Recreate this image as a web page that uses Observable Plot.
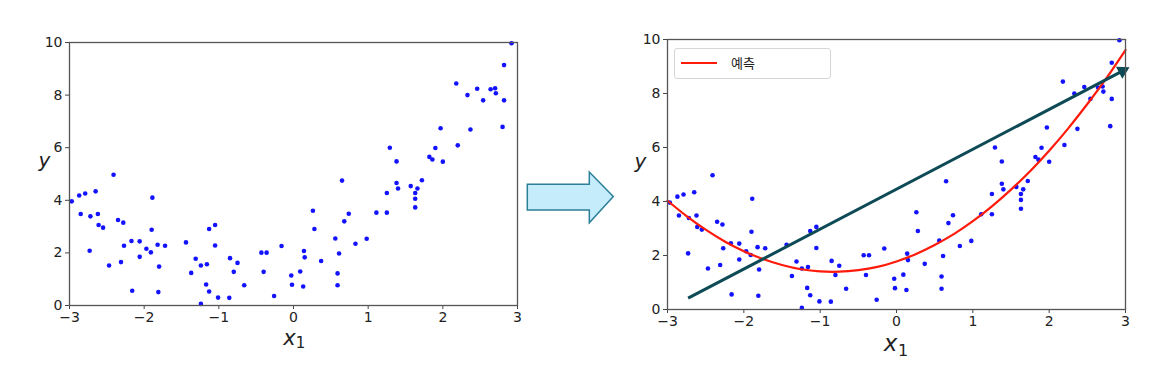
<!DOCTYPE html>
<html>
<head>
<meta charset="utf-8">
<script src="https://cdn.jsdelivr.net/npm/d3@7"></script>
<script src="https://cdn.jsdelivr.net/npm/@observablehq/plot@0.6"></script>
<style>
  body { margin: 0; width: 1165px; height: 373px; position: relative; background: #fff; overflow: hidden; }
  .panel { position: absolute; top: 0; }
  #legend { position: absolute; left: 674px; top: 48px; width: 157px; height: 31px; box-sizing: border-box;
    border: 1px solid #d6d6d6; border-radius: 3px; background: rgba(255,255,255,0.85); }
  #legend .ln { position: absolute; left: 6px; top: 13px; width: 36px; height: 2px; background: #ff1a0a; }
  #legend .tx { position: absolute; left: 56px; top: 5px; font: 13px "Noto Sans CJK KR", "DejaVu Sans", sans-serif; color: #222; line-height: 18px; }
</style>
</head>
<body>
<div id="left" class="panel" style="left:0"></div>
<div id="right" class="panel" style="left:600px"></div>
<div id="legend"><div class="ln"></div><div class="tx">예측</div></div>
<svg id="bigarrow" width="1165" height="373" style="position:absolute;left:0;top:0;pointer-events:none">
  <polygon points="527.3,184.3 589.3,184.3 589.3,172 613.3,196.5 589.3,222.7 589.3,210 527.3,210"
    fill="#c4ecfa" stroke="#2b7f98" stroke-width="1.5" stroke-linejoin="miter"/>
</svg>
<script>
// ---- data ----
const X1 = [-2.97,-2.87,-2.79,-2.65,-2.85,-2.72,-2.62,-2.61,-2.55,-2.73,-2.47,-2.41,-2.35,-2.28,-2.27,-2.31,-2.17,-2.06,-2.06,-2.16,
  -1.97,-1.91,-1.90,-1.89,-1.82,-1.72,-1.80,-1.81,-1.44,-1.37,-1.31,-1.24,-1.16,-1.24,-1.17,-1.13,-1.13,-1.05,-1.05,-1.01,
  -0.85,-0.80,-0.75,-0.66,-0.86,-0.43,-0.36,-0.40,-0.26,-0.16,
  -0.03,-0.02,0.09,0.13,0.14,0.15,0.26,0.28,0.37,0.56,0.59,0.59,0.61,0.65,0.68,0.74,0.83,0.98,1.11,1.25,
  1.25,1.29,1.38,1.38,1.40,1.57,1.63,1.63,1.63,1.66,1.72,1.82,1.86,1.90,1.97,2.00,2.18,2.20,2.33,2.37,
  2.46,2.54,2.64,2.70,2.71,2.82,2.82,2.80,2.92];
const Y = [3.96,4.18,4.26,4.34,3.48,3.39,3.48,3.06,2.96,2.08,1.52,4.97,3.25,3.15,2.27,1.65,2.45,2.44,1.85,0.56,
  2.16,2.02,2.88,4.10,2.31,2.27,1.48,0.51,2.40,1.24,1.78,1.52,1.57,0.06,0.80,0.53,2.91,3.06,2.28,0.30,
  1.80,1.28,1.62,0.77,0.29,2.01,2.01,1.28,0.36,2.26,
  1.14,0.79,1.29,0.72,2.07,1.83,3.60,2.91,1.69,2.55,1.22,0.77,1.98,4.75,3.20,3.49,2.35,2.54,3.53,3.53,
  4.28,6.00,4.66,5.48,4.45,4.54,4.28,4.06,3.73,4.45,4.76,5.65,5.55,5.99,6.74,5.47,8.44,6.09,8.00,6.69,
  8.24,7.80,8.22,8.26,8.07,9.14,7.80,6.79,9.97];

// prediction curve (예측)
const predX = [-3,-2.75,-2.5,-2.25,-2,-1.75,-1.5,-1.25,-1,-0.75,-0.5,-0.25,0,0.25,0.5,0.75,1,1.25,1.5,1.75,2,2.25,2.5,2.75,3];
const predY = [4.03,3.46,2.96,2.52,2.16,1.87,1.65,1.49,1.41,1.40,1.46,1.58,1.78,2.05,2.39,2.79,3.27,3.82,4.44,5.12,5.88,6.71,7.61,8.57,9.61];

// straight arrow (linear trend): start and tip
const arrowFrom = [-2.73, 0.42];
const arrowTo = [3.02, 8.92];

const xTicks = [-3,-2,-1,0,1,2,3];
const yTicks = [0,2,4,6,8,10];
const xLabelMain = "x";
const xLabelSub = "1";
const yLabel = "y";

// ---- build ----
const points = X1.map((x, i) => ({x, y: Y[i]}));
const pred = predX.map((x, i) => ({x, y: predY[i]}));
const fmt = d => d < 0 ? "\u2212" + Math.abs(d) : String(d);
const H = 373;

function panel({width, ml, mr, mt, mb, extra, lab}) {
  return Plot.plot({
    width, height: H,
    marginLeft: ml, marginRight: mr, marginTop: mt, marginBottom: mb,
    style: {fontSize: "14px", fontFamily: "DejaVu Sans", color: "#222", background: "transparent", overflow: "visible"},
    x: {domain: [-3, 3]},
    y: {domain: [0, 10]},
    marks: [
      Plot.axisX({ticks: xTicks, tickFormat: fmt, tickSize: 4, tickPadding: 3, label: null, stroke: "#444"}),
      Plot.axisY({ticks: yTicks, tickFormat: fmt, tickSize: 4, tickPadding: 3, label: null, stroke: "#444"}),
      Plot.dot(points, {x: "x", y: "y", r: 2.3, fill: "#1212ff", stroke: "none"}),
      ...extra,
      Plot.frame({stroke: "#555", strokeWidth: 1.3}),
      Plot.text([xLabelMain], {text: d => d, frameAnchor: "bottom", dx: lab.xdx, dy: lab.xdy, fontSize: lab.xfs, fontStyle: "italic", fill: "#222"}),
      Plot.text([xLabelSub], {text: d => d, frameAnchor: "bottom", dx: lab.sdx, dy: lab.sdy, fontSize: lab.sfs, fill: "#222"}),
      Plot.text([yLabel], {text: d => d, frameAnchor: "left", dx: lab.ydx, dy: -13, fontSize: 20, fontStyle: "italic", fill: "#222"})
    ]
  });
}

document.getElementById("left").append(panel({
  width: 540, ml: 69, mr: 23, mt: 42, mb: 68, extra: [],
  lab: {xdx: -4, xdy: 39, xfs: 21, sdx: 7, sdy: 42.6, sfs: 15, ydx: -31}
}));

// arrow head orientation from the right panel's frame geometry
const rW = 565, rml = 67, rmr = 40, rmt = 39, rmb = 64;
const pxPerX = (rW - rml - rmr) / 6, pxPerY = (H - rmt - rmb) / 10;
const vx = (arrowTo[0] - arrowFrom[0]) * pxPerX, vy = -(arrowTo[1] - arrowFrom[1]) * pxPerY;
const ang = Math.atan2(vy, vx) * 180 / Math.PI; // screen angle
const len = Math.hypot(vx, vy);
const back = 5; // px from tip to triangle centre
const hdx = -vx / len * back, hdy = -vy / len * back;

document.getElementById("right").append(panel({
  width: rW, ml: rml, mr: rmr, mt: rmt, mb: rmb,
  lab: {xdx: -6, xdy: 41, xfs: 23, sdx: 6.7, sdy: 46.8, sfs: 16, ydx: -33},
  extra: [
    Plot.line(pred, {x: "x", y: "y", stroke: "#ff1a0a", strokeWidth: 2.2, curve: "natural"}),
    Plot.link([{x1: arrowFrom[0], y1: arrowFrom[1], x2: arrowTo[0], y2: arrowTo[1]}],
      {x1: "x1", y1: "y1", x2: "x2", y2: "y2", stroke: "#0d4a55", strokeWidth: 3}),
    Plot.dot([{x: arrowTo[0], y: arrowTo[1]}],
      {x: "x", y: "y", symbol: "triangle2", r: 6.5, fill: "#0d4a55", stroke: "none", rotate: 90 + ang, dx: hdx, dy: hdy})
  ]
}));
</script>
</body>
</html>
